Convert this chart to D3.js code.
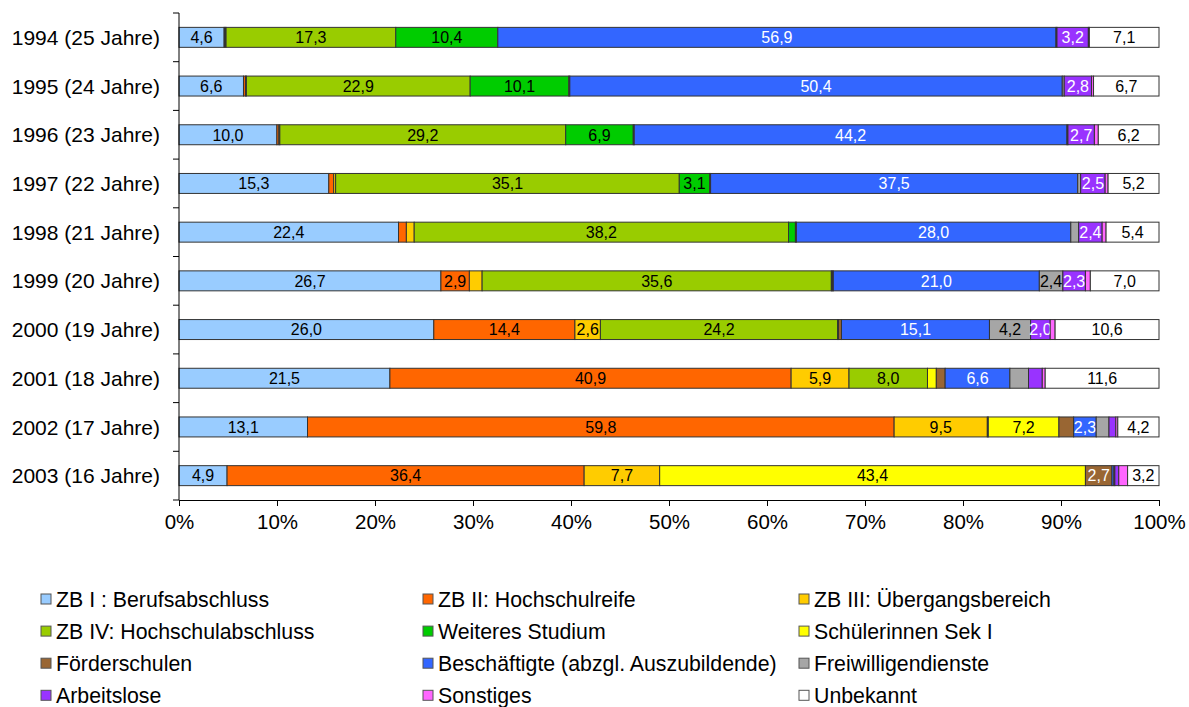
<!DOCTYPE html>
<html>
<head>
<meta charset="utf-8">
<script src="https://cdn.jsdelivr.net/npm/d3@7"></script>
<style>
  html, body { margin: 0; padding: 0; background: #fff; }
  svg { display: block; font-family: "Liberation Sans", Arial, sans-serif; }
</style>
</head>
<body>
<svg id="chart" width="1189" height="707"></svg>
<script>
// ---- data ----
const categories = ["1994 (25 Jahre)", "1995 (24 Jahre)", "1996 (23 Jahre)", "1997 (22 Jahre)", "1998 (21 Jahre)",
                    "1999 (20 Jahre)", "2000 (19 Jahre)", "2001 (18 Jahre)", "2002 (17 Jahre)", "2003 (16 Jahre)"];
const seriesNames = ["ZB I : Berufsabschluss", "ZB II: Hochschulreife", "ZB III: Übergangsbereich",
                     "ZB IV: Hochschulabschluss", "Weiteres Studium", "Schülerinnen Sek I",
                     "Förderschulen", "Beschäftigte (abzgl. Auszubildende)", "Freiwilligendienste",
                     "Arbeitslose", "Sonstiges", "Unbekannt"];
const seriesColors = ["#99CCFF", "#FF6600", "#FFCC00", "#99CC00", "#00CC00", "#FFFF00",
                      "#996633", "#3366FF", "#A6A6A6", "#9933FF", "#FF66FF", "#FFFFFF"];
const whiteLabelSeries = ["Förderschulen", "Beschäftigte (abzgl. Auszubildende)", "Arbeitslose"];

const zb1        = [4.6, 6.6, 10.0, 15.3, 22.4, 26.7, 26.0, 21.5, 13.1, 4.9];
const zb2        = [0.1, 0.2, 0.2, 0.5, 0.8, 2.9, 14.4, 40.9, 59.8, 36.4];
const zb3        = [0.1, 0.1, 0.1, 0.2, 0.8, 1.3, 2.6, 5.9, 9.5, 7.7];
const zb4        = [17.3, 22.9, 29.2, 35.1, 38.2, 35.6, 24.2, 8.0, 0.1, 0.0];
const studium    = [10.4, 10.1, 6.9, 3.1, 0.7, 0.1, 0.1, 0.0, 0.0, 0.0];
const sek1       = [0.0, 0.0, 0.0, 0.0, 0.0, 0.0, 0.0, 0.9, 7.2, 43.4];
const foerder    = [0.0, 0.1, 0.1, 0.1, 0.1, 0.1, 0.3, 0.9, 1.5, 2.7];
const besch      = [56.9, 50.4, 44.2, 37.5, 28.0, 21.0, 15.1, 6.6, 2.3, 0.2];
const freiw      = [0.1, 0.2, 0.1, 0.3, 0.8, 2.4, 4.2, 1.9, 1.3, 0.1];
const arbeitslos = [3.2, 2.8, 2.7, 2.5, 2.4, 2.3, 2.0, 1.4, 0.7, 0.4];
const sonstiges  = [0.1, 0.2, 0.4, 0.3, 0.4, 0.5, 0.5, 0.3, 0.2, 0.9];
const unbekannt  = [7.1, 6.7, 6.2, 5.2, 5.4, 7.0, 10.6, 11.6, 4.2, 3.2];
const seriesValues = [zb1, zb2, zb3, zb4, studium, sek1, foerder, besch, freiw, arbeitslos, sonstiges, unbekannt];
const labelMin = 2.0;

(function () {
// ---- build table ----
const rows = categories.map((c, i) => {
  const r = { cat: c };
  seriesNames.forEach((s, j) => { r[s] = seriesValues[j][i]; });
  return r;
});

const svg = d3.select("#chart");
const plotLeft = 179, plotRight = 1159, plotTop = 13, plotBottom = 500;

const x = d3.scaleLinear().domain([0, 1]).range([plotLeft, plotRight]);
const y = d3.scaleBand().domain(categories).range([plotTop, plotBottom]).paddingInner(0.59).paddingOuter(0.295);
const color = d3.scaleOrdinal().domain(seriesNames).range(seriesColors);

const stack = d3.stack().keys(seriesNames).offset(d3.stackOffsetExpand);
const stacked = stack(rows);

// bars
const layers = svg.append("g").selectAll("g").data(stacked).join("g")
  .attr("fill", d => color(d.key));
layers.selectAll("rect").data(d => d.map(p => { p.key = d.key; return p; })).join("rect")
  .attr("x", d => x(d[0]))
  .attr("y", d => y(d.data.cat))
  .attr("width", d => Math.max(0, x(d[1]) - x(d[0])))
  .attr("height", y.bandwidth())
  .attr("stroke", "#333")
  .attr("stroke-width", 1);

// value labels
const fmt = v => d3.format(".1f")(v).replace(".", ",");
layers.selectAll("text").data(d => d.filter(p => p.data[p.key] >= labelMin)).join("text")
  .attr("x", d => (x(d[0]) + x(d[1])) / 2)
  .attr("y", d => y(d.data.cat) + y.bandwidth() / 2)
  .attr("dy", "0.36em")
  .attr("text-anchor", "middle")
  .attr("font-size", 16)
  .attr("fill", d => whiteLabelSeries.includes(d.key) ? "#fff" : "#000")
  .text(d => fmt(d.data[d.key]));

// x axis
const xAxis = svg.append("g").attr("transform", `translate(0,${plotBottom})`)
  .call(d3.axisBottom(x).ticks(10).tickFormat(d3.format(".0%")).tickSize(6).tickPadding(8));
xAxis.select(".domain").attr("stroke", "#000");
xAxis.selectAll(".tick line").attr("stroke", "#000");
xAxis.selectAll("text").attr("font-size", 20.5).attr("fill", "#000").attr("font-family", "'Liberation Sans', Arial, sans-serif");

// y axis line and ticks between categories
const yAxisG = svg.append("g");
yAxisG.append("line").attr("x1", plotLeft).attr("x2", plotLeft).attr("y1", plotTop).attr("y2", plotBottom).attr("stroke", "#000");
const gap = (y.step() - y.bandwidth()) / 2;
const boundaries = categories.map(c => y(c) - gap).concat([y(categories[categories.length - 1]) + y.bandwidth() + gap]);
yAxisG.selectAll("line.tk").data(boundaries).join("line").attr("class", "tk")
  .attr("x1", plotLeft - 6).attr("x2", plotLeft).attr("y1", d => d).attr("y2", d => d).attr("stroke", "#000");
yAxisG.selectAll("text").data(categories).join("text")
  .attr("x", plotLeft - 19)
  .attr("y", d => y(d) + y.bandwidth() / 2)
  .attr("dy", "0.36em")
  .attr("text-anchor", "end")
  .attr("font-size", 21)
  .attr("fill", "#000")
  .text(d => d);

// legend
const legCols = [41, 423, 799];
const legTop = 599, legStep = 32.1;
const leg = svg.append("g").selectAll("g").data(seriesNames).join("g")
  .attr("transform", (d, i) => `translate(${legCols[i % 3]},${legTop + Math.floor(i / 3) * legStep})`);
leg.append("rect").attr("x", 0).attr("y", -5).attr("width", 10).attr("height", 10)
  .attr("fill", d => color(d)).attr("stroke", "#555").attr("stroke-width", 1);
leg.append("text").attr("x", 15).attr("y", 0).attr("dy", "0.36em")
  .attr("font-size", 21.3).attr("fill", "#000").text(d => d);
})();
</script>
</body>
</html>
